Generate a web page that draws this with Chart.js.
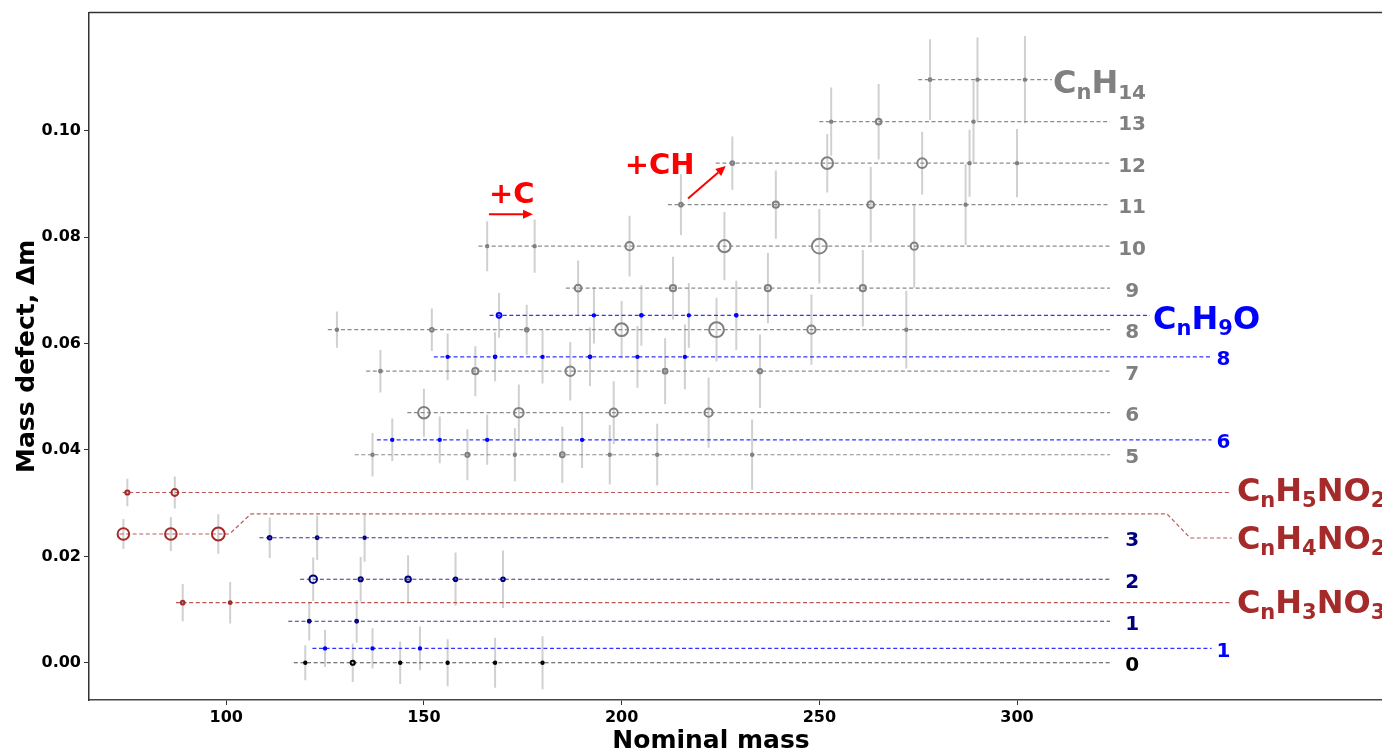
<!DOCTYPE html>
<html><head><meta charset="utf-8">
<script src="https://cdn.jsdelivr.net/npm/chart.js@4.4.1/dist/chart.umd.min.js"></script>
<style>html,body{margin:0;padding:0;background:#fff;overflow:hidden}#wrap{position:relative;width:1382px;height:749px}</style>
</head><body><div id="wrap"><canvas id="c" width="1382" height="749"></canvas></div>
<script>
// ---------- axis ticks ----------
const xTicks = [100, 150, 200, 250, 300];
const yTicks = [0.00, 0.02, 0.04, 0.06, 0.08, 0.10];

// ---------- CnHk rows (gray / navy / black) ----------
const hLabels  = ['0','1','2','3','5','6','7','8','9','10','11','12','13','14'];
const hDefect  = [0.0000,0.0078,0.0157,0.0235,0.0391,0.0470,0.0548,0.0626,0.0704,0.0783,0.0861,0.0939,0.1017,0.1096];
const hLineStart = [117.1,115.7,118.7,108.4,132.5,145.8,135.4,125.7,185.9,163.8,211.7,223.8,250.0,275.0];
const hLineEnd   = [323.5,323.5,323.5,323.5,323.5,323.5,323.5,323.5,323.5,323.5,323.5,323.5,323.5,308.8];

const massH0=[120,132,144,156,168,180],     errH0=[0.0033,0.0036,0.0040,0.0044,0.0047,0.0050], sizeH0=[2,3,1.7,1.7,1.7,1.7];
const massH1=[121,133],                     errH1=[0.0036,0.0040],                             sizeH1=[2.3,2.3];
const massH2=[122,134,146,158,170],         errH2=[0.0041,0.0042,0.0045,0.0050,0.0054],        sizeH2=[4.7,3,3.7,2.7,2.7];
const massH3=[111,123,135],                 errH3=[0.0038,0.0042,0.0045],                      sizeH3=[2.7,2.3,2];
const massH5=[137,161,173,185,197,209,233], errH5=[0.0041,0.0048,0.0050,0.0053,0.0056,0.0058,0.0066], sizeH5=[2,3,1.7,3.3,1.7,1.7,1.7];
const massH6=[150,174,198,222],             errH6=[0.0045,0.0053,0.0059,0.0066],               sizeH6=[6.7,5.7,5,5];
const massH7=[139,163,187,211,235],         errH7=[0.0040,0.0047,0.0055,0.0062,0.0069],        sizeH7=[2.3,4,5.7,3.3,3];
const massH8=[128,152,176,200,224,248,272], errH8=[0.0034,0.0040,0.0047,0.0054,0.0060,0.0066,0.0073], sizeH8=[1.7,2.7,2.7,7.3,8.3,5,2];
const massH9=[189,213,237,261],             errH9=[0.0052,0.0059,0.0066,0.0072],               sizeH9=[4.3,4,4,4];
const massH10=[166,178,202,226,250,274],    errH10=[0.0047,0.0050,0.0057,0.0064,0.0070,0.0078], sizeH10=[1.7,1.7,5,7,8.3,4.5];
const massH11=[215,239,263,287],            errH11=[0.0057,0.0064,0.0071,0.0076],              sizeH11=[2.7,4,4.3,1.7];
const massH12=[228,252,276,288,300],        errH12=[0.0050,0.0055,0.0059,0.0063,0.0064],       sizeH12=[2.7,6.7,5.7,1.7,1.7];
const massH13=[253,265,289],                errH13=[0.0064,0.0071,0.0077],                    sizeH13=[1.7,3.7,2];
const massH14=[278,290,302],                errH14=[0.0076,0.0079,0.0082],                    sizeH14=[2.3,1.7,1.7];

// ---------- CnHkO rows (blue) ----------
const oLabels    = ['', '8', '6', '1'];
const oDefect    = [0.0653, 0.0575, 0.0419, 0.0027];
const oLineStart = [166.6, 152.5, 138.1, 121.8];
const oLineEnd   = [333.6, 349.2, 349.2, 349.2];
const massO9=[169,193,205,217,229],     errO9=[0.0042,0.0053,0.0057,0.0061,0.0065],        sizeO9=[3.3,1.7,2.3,2,2.3];
const massO8=[156,168,180,192,204,216], errO8=[0.0044,0.0046,0.0050,0.0055,0.0058,0.0061], sizeO8=[1.7,2.3,1.7,2.3,1.7,1.7];
const massO6=[142,154,166,190],         errO6=[0.0040,0.0044,0.0047,0.0053],               sizeO6=[1.7,1.7,1.7,1.7];
const massO1=[125,137,149],             errO1=[0.0035,0.0038,0.0041],                      sizeO1=[1.7,1.7,1.7];

// ---------- nitrogen rows (brown) ----------
const nDefect    = [0.0320, 0.0242, 0.0113];   // CnH5NO2, CnH4NO2, CnH3NO3
const massN5=[75,87],     errN5=[0.0026,0.0030],        sizeN5=[3,4.3];
const massN4=[74,86,98],  errN4=[0.0028,0.0032,0.0037], sizeN4=[6.7,6.7,7.3];
const massN3=[89,101],    errN3=[0.0035,0.0039],        sizeN3=[2.7,2.3];
const n5Line = [73.8, 353.9];
const n3Line = [87.3, 353.9];
const n4PathMass   = [73.0, 100.8, 106.3, 337.9, 343.8, 354.3];
const n4PathDefect = [0.0242, 0.0242, 0.0280, 0.0280, 0.02345, 0.02345];

// ---------- styles ----------
const GRAY='#808080', NAVY='#000080', BLACK='#000000', BLUE='#0000ff', BROWN='#a52a2a', RED='#ff0000';
const lineAlpha = {[GRAY]:'rgba(128,128,128,0.9)',[NAVY]:'rgba(0,0,128,0.8)',[BLACK]:'rgba(0,0,0,0.7)',[BLUE]:'rgba(0,0,255,0.8)',[BROWN]:'rgba(165,42,42,0.8)'};
const hMass=[massH0,massH1,massH2,massH3,massH5,massH6,massH7,massH8,massH9,massH10,massH11,massH12,massH13,massH14];
const hErr =[errH0,errH1,errH2,errH3,errH5,errH6,errH7,errH8,errH9,errH10,errH11,errH12,errH13,errH14];
const hSize=[sizeH0,sizeH1,sizeH2,sizeH3,sizeH5,sizeH6,sizeH7,sizeH8,sizeH9,sizeH10,sizeH11,sizeH12,sizeH13,sizeH14];
const hColor=hLabels.map(l=> l==='0'?BLACK : (['1','2','3'].includes(l)?NAVY:GRAY));

const rows=[];
hLabels.forEach((l,i)=>rows.push({m:hMass[i],e:hErr[i],s:hSize[i],dm:hDefect[i],x0:hLineStart[i],x1:hLineEnd[i],c:hColor[i]}));
[[massO9,errO9,sizeO9],[massO8,errO8,sizeO8],[massO6,errO6,sizeO6],[massO1,errO1,sizeO1]].forEach((a,i)=>
  rows.push({m:a[0],e:a[1],s:a[2],dm:oDefect[i],x0:oLineStart[i],x1:oLineEnd[i],c:BLUE}));
rows.push({m:massN5,e:errN5,s:sizeN5,dm:nDefect[0],x0:n5Line[0],x1:n5Line[1],c:BROWN});
rows.push({m:massN4,e:errN4,s:sizeN4,dm:nDefect[1],x0:null,x1:null,c:BROWN});
rows.push({m:massN3,e:errN3,s:sizeN3,dm:nDefect[2],x0:n3Line[0],x1:n3Line[1],c:BROWN});

const datasets=[];
// error bars
const errData=[];
rows.forEach(r=>r.m.forEach((m,i)=>{errData.push({x:m,y:r.dm-r.e[i]},{x:m,y:r.dm+r.e[i]},{x:m,y:null});}));
datasets.push({data:errData,showLine:true,spanGaps:false,borderColor:'#d0d0d0',borderWidth:2,pointRadius:0,order:10});
// dashed guide lines
rows.forEach(r=>{
  if(r.x0===null) return;
  datasets.push({data:[{x:r.x0,y:r.dm},{x:r.x1,y:r.dm}],showLine:true,borderColor:lineAlpha[r.c],borderWidth:1.2,borderDash:[4,2.6],pointRadius:0,order:5});
});
datasets.push({data:n4PathMass.map((m,i)=>({x:m,y:n4PathDefect[i]})),showLine:true,borderColor:'rgba(165,42,42,0.75)',borderWidth:1.2,borderDash:[4,2.6],pointRadius:0,order:5});
// markers
rows.forEach(r=>{
  datasets.push({data:r.m.map(m=>({x:m,y:r.dm})),showLine:false,pointStyle:'circle',
    pointRadius:r.s.map(s=>Math.max(1.2,s-0.9)),pointBorderWidth:2,pointBorderColor:r.c,pointBackgroundColor:'rgba(0,0,0,0)',order:1});
});

// ---------- annotation positions (data coordinates) ----------
const FONT='"DejaVu Sans"';
const formulaLabels=[
  {segs:[['C',0],['n',1],['H',0]], x:309.1, y:0.10713, color:GRAY},
  {segs:[['C',0],['n',1],['H',0],['9',1],['O',0]], x:334.4, y:0.06274, color:BLUE},
  {segs:[['C',0],['n',1],['H',0],['5',1],['NO',0],['2',1]], x:355.6, y:0.03039, color:BROWN},
  {segs:[['C',0],['n',1],['H',0],['4',1],['NO',0],['2',1]], x:355.6, y:0.02146, color:BROWN},
  {segs:[['C',0],['n',1],['H',0],['3',1],['NO',0],['3',1]], x:355.6, y:0.00927, color:BROWN}
];
const rowLabelX = 329.1, blueLabelX = 352.2;
const arrows=[{x0:166.45,y0:0.08432,x1:177.58,y1:0.08432},{x0:216.8,y0:0.08724,x1:226.34,y1:0.09338}];
const arrowTexts=[{t:'+C',x:166.45,y:0.08649},{t:'+CH',x:200.79,y:0.09193}];

const annot={id:'annot',
  afterDraw(chart){
    const ctx=chart.ctx, xs=chart.scales.x, ys=chart.scales.y, a=chart.chartArea;
    ctx.save();
    // top spine
    ctx.strokeStyle='#333'; ctx.lineWidth=1.5;
    ctx.beginPath(); ctx.moveTo(a.left,a.top); ctx.lineTo(1382,a.top); ctx.stroke();
    // row number labels
    ctx.textAlign='center'; ctx.textBaseline='alphabetic';
    ctx.font='bold 20px '+FONT;
    hLabels.forEach((l,i)=>{
      ctx.fillStyle=hColor[i];
      const off = l==='14'?19:8.5;
      ctx.fillText(l, xs.getPixelForValue(rowLabelX), ys.getPixelForValue(hDefect[i])+off);
    });
    oLabels.forEach((l,i)=>{ if(!l) return;
      ctx.fillStyle=BLUE;
      ctx.fillText(l, xs.getPixelForValue(blueLabelX), ys.getPixelForValue(oDefect[i])+8.5);
    });
    // formula labels
    ctx.textAlign='left';
    formulaLabels.forEach(f=>{
      let cx=xs.getPixelForValue(f.x); const by=ys.getPixelForValue(f.y);
      ctx.fillStyle=f.color;
      f.segs.forEach(([t,sub])=>{
        ctx.font='bold '+(sub?21:32)+'px '+FONT;
        ctx.fillText(t,cx,sub?by+6:by);
        cx+=ctx.measureText(t).width;
      });
    });
    // arrows
    ctx.strokeStyle=RED; ctx.fillStyle=RED; ctx.lineWidth=2;
    arrows.forEach(ar=>{
      const x0=xs.getPixelForValue(ar.x0),y0=ys.getPixelForValue(ar.y0),x1=xs.getPixelForValue(ar.x1),y1=ys.getPixelForValue(ar.y1);
      const ang=Math.atan2(y1-y0,x1-x0), L=10, W=4.5;
      const bx=x1-L*Math.cos(ang), by=y1-L*Math.sin(ang);
      ctx.beginPath(); ctx.moveTo(x0,y0); ctx.lineTo(bx,by); ctx.stroke();
      ctx.beginPath(); ctx.moveTo(x1,y1);
      ctx.lineTo(bx+W*Math.sin(ang),by-W*Math.cos(ang));
      ctx.lineTo(bx-W*Math.sin(ang),by+W*Math.cos(ang)); ctx.closePath(); ctx.fill();
    });
    ctx.font='bold 29px '+FONT;
    arrowTexts.forEach(t=>ctx.fillText(t.t,xs.getPixelForValue(t.x),ys.getPixelForValue(t.y)));
    // axis titles
    ctx.fillStyle='#000'; ctx.font='bold 25px '+FONT; ctx.textAlign='center';
    ctx.fillText('Nominal mass',711,748);
    ctx.translate(33.5,(a.top+a.bottom)/2); ctx.rotate(-Math.PI/2);
    ctx.fillText('Mass defect, \u0394m',0,0);
    ctx.restore();
  }};

new Chart(document.getElementById('c'),{
  type:'scatter',
  data:{datasets},
  options:{
    responsive:false,animation:false,devicePixelRatio:1,
    layout:{autoPadding:false,padding:{top:12,right:0,left:0,bottom:0}},
    plugins:{legend:{display:false},tooltip:{enabled:false}},
    scales:{
      x:{type:'linear',min:65.3,max:392.3,
        afterBuildTicks:s=>{s.ticks=xTicks.map(v=>({value:v}));},
        afterFit:s=>{s.height=49;},
        grid:{drawOnChartArea:false,drawTicks:true,tickLength:5,color:'#333',tickWidth:1},
        border:{display:true,color:'#444',width:1.5},
        ticks:{color:'#000',font:{family:'DejaVu Sans',size:16,weight:'bold'},padding:3,maxRotation:0,callback:v=>String(v)}},
      y:{type:'linear',min:-0.0070,max:0.1222,
        afterBuildTicks:s=>{s.ticks=yTicks.map(v=>({value:v}));},
        afterFit:s=>{s.width=89;},
        grid:{drawOnChartArea:false,drawTicks:true,tickLength:5,color:'#333',tickWidth:1},
        border:{display:true,color:'#333',width:1.5},
        ticks:{color:'#000',font:{family:'DejaVu Sans',size:16,weight:'bold'},padding:3,callback:v=>Number(v).toFixed(2)}}
    }
  },
  plugins:[annot]
});
</script></body></html>
